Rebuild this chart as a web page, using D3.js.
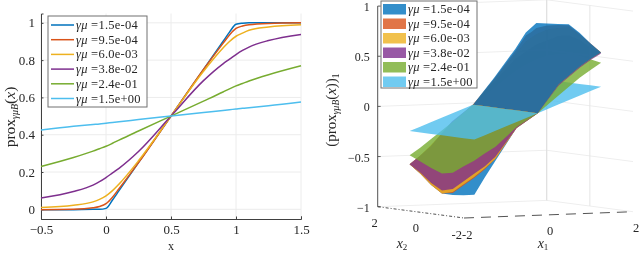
<!DOCTYPE html>
<html>
<head>
<meta charset="utf-8">
<script src="https://cdn.jsdelivr.net/npm/d3@7"></script>
<style>
body { margin: 0; background: #fff; }
svg { display: block; filter: blur(0.45px); }
text { font-family: "Liberation Serif", serif; fill: #262626; }
.axis path, .axis line { stroke: #404040; }
</style>
</head>
<body>
<div id="chart"></div>
<script>
var labels = ["1.5e-04", "9.5e-04", "6.0e-03", "3.8e-02", "2.4e-01", "1.5e+00"];
var colors = ["#0072BD", "#D95319", "#EDB120", "#7E2F8E", "#77AC30", "#4DBEEE"];

// left panel, prox value along x
var xs = [-0.5, -0.25, -0.1, -0.05, 0, 0.05, 0.1, 0.25, 0.5, 0.75, 0.9, 0.95, 1, 1.05, 1.1, 1.25, 1.5];
var line1 = [-0.003, -0.002, 0, 0, 0.005, 0.05, 0.1, 0.25, 0.5, 0.75, 0.9, 0.95, 0.992, 0.998, 1, 1, 1];
var line2 = [-0.002, 0, 0.008, 0.015, 0.03, 0.065, 0.11, 0.25, 0.5, 0.75, 0.89, 0.935, 0.97, 0.983, 0.99, 0.997, 1];
var line3 = [0.01, 0.022, 0.04, 0.053, 0.072, 0.1, 0.135, 0.26, 0.5, 0.74, 0.865, 0.9, 0.928, 0.945, 0.96, 0.978, 0.99];
var line4 = [0.06, 0.095, 0.13, 0.148, 0.17, 0.195, 0.22, 0.31, 0.5, 0.69, 0.78, 0.805, 0.83, 0.852, 0.87, 0.905, 0.938];
var line5 = [0.23, 0.278, 0.312, 0.325, 0.338, 0.354, 0.371, 0.42, 0.5, 0.58, 0.629, 0.646, 0.662, 0.675, 0.688, 0.722, 0.77];
var line6 = [0.425, 0.445, 0.455, 0.458, 0.462, 0.466, 0.47, 0.481, 0.5, 0.519, 0.53, 0.534, 0.538, 0.542, 0.545, 0.555, 0.575];
var lines = [line1, line2, line3, line4, line5, line6];
var xTicks = [-0.5, 0, 0.5, 1, 1.5];
var yTicks = [0, 0.2, 0.4, 0.6, 0.8, 1];

// right panel, rows are x2Grid, columns are x1Grid
var x1Grid = [-1.5, -1.25, -1, -0.5, 0, 0.5, 1, 1.25, 1.5];
var x2Grid = [-1.5, -1, -0.5, 0, 0.5, 1, 1.5];
var surf1 = [
  [-0.79, -0.62, -0.46, -0.14, 0, 0.28, 0.45, 0.52, 0.58],
  [-0.81, -0.72, -0.58, -0.25, 0, 0.35, 0.55, 0.62, 0.66],
  [-0.82, -0.76, -0.64, -0.32, 0, 0.39, 0.68, 0.73, 0.75],
  [-0.82, -0.75, -0.65, -0.36, 0, 0.40, 0.77, 0.82, 0.82],
  [-0.75, -0.69, -0.60, -0.33, 0, 0.41, 0.76, 0.80, 0.81],
  [-0.65, -0.60, -0.51, -0.27, 0, 0.38, 0.72, 0.78, 0.80],
  [-0.57, -0.49, -0.40, -0.18, 0, 0.26, 0.54, 0.70, 0.79]];
var surf2 = [
  [-0.61, -0.54, -0.44, -0.14, 0, 0.28, 0.45, 0.52, 0.58],
  [-0.71, -0.64, -0.53, -0.25, 0, 0.34, 0.54, 0.61, 0.66],
  [-0.80, -0.73, -0.62, -0.31, 0, 0.37, 0.65, 0.71, 0.74],
  [-0.82, -0.75, -0.65, -0.35, 0, 0.38, 0.73, 0.79, 0.81],
  [-0.75, -0.69, -0.60, -0.32, 0, 0.39, 0.73, 0.78, 0.80],
  [-0.65, -0.60, -0.51, -0.26, 0, 0.36, 0.69, 0.75, 0.78],
  [-0.57, -0.49, -0.40, -0.18, 0, 0.25, 0.52, 0.66, 0.74]];
var surf3 = [
  [-0.60, -0.53, -0.44, -0.14, 0, 0.28, 0.45, 0.52, 0.58],
  [-0.70, -0.63, -0.52, -0.25, 0, 0.32, 0.52, 0.60, 0.65],
  [-0.79, -0.72, -0.61, -0.30, 0, 0.35, 0.62, 0.69, 0.73],
  [-0.82, -0.75, -0.65, -0.33, 0, 0.36, 0.68, 0.75, 0.79],
  [-0.75, -0.69, -0.60, -0.30, 0, 0.36, 0.68, 0.74, 0.77],
  [-0.65, -0.60, -0.51, -0.25, 0, 0.33, 0.63, 0.70, 0.74],
  [-0.57, -0.49, -0.39, -0.17, 0, 0.24, 0.49, 0.60, 0.67]];
var surf4 = [
  [-0.57, -0.51, -0.42, -0.14, 0, 0.27, 0.44, 0.51, 0.57],
  [-0.67, -0.60, -0.50, -0.24, 0, 0.28, 0.49, 0.56, 0.62],
  [-0.76, -0.69, -0.58, -0.28, 0, 0.30, 0.54, 0.62, 0.68],
  [-0.79, -0.72, -0.62, -0.30, 0, 0.30, 0.56, 0.65, 0.71],
  [-0.73, -0.66, -0.58, -0.28, 0, 0.29, 0.55, 0.63, 0.69],
  [-0.64, -0.58, -0.49, -0.24, 0, 0.26, 0.50, 0.57, 0.63],
  [-0.57, -0.49, -0.40, -0.16, 0, 0.22, 0.44, 0.51, 0.58]];
var surf5 = [
  [-0.43, -0.38, -0.32, -0.13, 0, 0.17, 0.34, 0.41, 0.48],
  [-0.52, -0.47, -0.40, -0.18, 0, 0.19, 0.38, 0.44, 0.50],
  [-0.60, -0.54, -0.46, -0.22, 0, 0.20, 0.40, 0.47, 0.52],
  [-0.62, -0.56, -0.47, -0.23, 0, 0.21, 0.41, 0.48, 0.53],
  [-0.58, -0.52, -0.44, -0.21, 0, 0.20, 0.40, 0.46, 0.51],
  [-0.53, -0.47, -0.39, -0.19, 0, 0.19, 0.37, 0.43, 0.48],
  [-0.48, -0.41, -0.33, -0.17, 0, 0.16, 0.32, 0.38, 0.43]];
var surf6 = [
  [-0.24, -0.20, -0.16, -0.08, 0, 0.08, 0.16, 0.20, 0.24],
  [-0.24, -0.20, -0.16, -0.08, 0, 0.08, 0.16, 0.20, 0.24],
  [-0.24, -0.20, -0.16, -0.08, 0, 0.08, 0.16, 0.20, 0.24],
  [-0.24, -0.20, -0.16, -0.08, 0, 0.08, 0.16, 0.20, 0.24],
  [-0.24, -0.20, -0.16, -0.08, 0, 0.08, 0.16, 0.20, 0.24],
  [-0.24, -0.20, -0.16, -0.08, 0, 0.08, 0.16, 0.20, 0.24],
  [-0.24, -0.20, -0.16, -0.08, 0, 0.08, 0.16, 0.20, 0.24]];
var surfs = [surf1, surf2, surf3, surf4, surf5, surf6];
var zTicks = [-1, -0.5, 0, 0.5, 1];

var svg = d3.select("#chart").append("svg").attr("width", 640).attr("height", 253);

function legendText(sel, x, y, label) {
  var t = sel.append("text").attr("x", x).attr("y", y).attr("font-size", 12.5).attr("letter-spacing", 0.25);
  t.append("tspan").attr("font-style", "italic").text("γμ ");
  t.append("tspan").text("=" + label);
}

// ---- left panel
var x = d3.scaleLinear().domain([-0.5, 1.5]).range([41, 301]);
var y = d3.scaleLinear().domain([-0.052, 1.05]).range([219, 13.5]);
var left = svg.append("g");

left.selectAll(".gx").data(xTicks).enter().append("line")
  .attr("x1", x).attr("x2", x).attr("y1", y(-0.052)).attr("y2", y(1.05)).attr("stroke", "#ececec");
left.selectAll(".gy").data(yTicks).enter().append("line")
  .attr("y1", y).attr("y2", y).attr("x1", 41).attr("x2", 301).attr("stroke", "#ececec");

var xAxis = d3.axisBottom(x).tickValues(xTicks).tickSize(-2.5).tickPadding(6).tickFormat(d3.format("~g"));
var yAxis = d3.axisLeft(y).tickValues(yTicks).tickSize(-2.5).tickPadding(6).tickFormat(d3.format("~g"));
left.append("g").attr("class", "axis").attr("transform", "translate(0,219)").call(xAxis)
  .selectAll("text").attr("font-size", 13).attr("font-family", "Liberation Serif").attr("fill", "#262626");
left.append("g").attr("class", "axis").attr("transform", "translate(41,0)").call(yAxis)
  .selectAll("text").attr("font-size", 13).attr("font-family", "Liberation Serif").attr("fill", "#262626");

var path = d3.line().x(function(d, i) { return x(xs[i]); }).y(function(d) { return y(d); }).curve(d3.curveMonotoneX);
lines.forEach(function(l, i) {
  left.append("path").attr("d", path(l)).attr("fill", "none").attr("stroke", colors[i]).attr("stroke-width", 1.5);
});

left.append("text").attr("x", 171).attr("y", 250).attr("text-anchor", "middle").attr("font-size", 12).text("x");
var yl = left.append("text").attr("transform", "translate(15,117) rotate(-90)").attr("text-anchor", "middle").attr("font-size", 15.5);
yl.append("tspan").text("prox");
yl.append("tspan").attr("font-size", 10).attr("dy", 3).attr("font-style", "italic").text("γμB");
yl.append("tspan").attr("dy", -3).text("(");
yl.append("tspan").attr("font-style", "italic").text("x");
yl.append("tspan").text(")");

left.append("rect").attr("x", 48).attr("y", 16).attr("width", 99).attr("height", 91)
  .attr("fill", "#fff").attr("stroke", "#707070").attr("stroke-width", 1);
labels.forEach(function(l, i) {
  var ry = 25 + i * 14.7;
  left.append("line").attr("x1", 51).attr("x2", 74).attr("y1", ry).attr("y2", ry)
    .attr("stroke", colors[i]).attr("stroke-width", 1.5);
  legendText(left, 76, ry + 4, l);
});

// ---- right panel: one scale per screen contribution of each data axis
var sx1 = d3.scaleLinear().domain([-2, 2]).range([0, 169]);
var sx2 = d3.scaleLinear().domain([-2, 2]).range([0, -86.3]);
var hx1 = d3.scaleLinear().domain([-2, 2]).range([0, -6.3]);
var hx2 = d3.scaleLinear().domain([-2, 2]).range([0, -11.3]);
var hz = d3.scaleLinear().domain([-1, 1]).range([0, -200.6]);

function project(a, b, c) {
  return [464 + sx1(a) + sx2(b), 218 + hx1(a) + hx2(b) + hz(c)];
}

var right = svg.append("g");
function seg(p, q, color, w, dash) {
  right.append("line").attr("x1", p[0]).attr("y1", p[1]).attr("x2", q[0]).attr("y2", q[1])
    .attr("stroke", color).attr("stroke-width", w).attr("stroke-dasharray", dash || null);
}

// back walls
zTicks.forEach(function(z) {
  seg(project(-2, 2, z), project(2, 2, z), "#eeeeee", 1);
  seg(project(2, 2, z), project(2, -2, z), "#eeeeee", 1);
});
seg(project(2, 2, -1), project(2, 2, 1), "#dedede", 1.2);
seg(project(2, 0, -1), project(2, 0, 1), "#e6e6e6", 1);
seg(project(-2, 2, -1), project(-2, 2, 1), "#404040", 0.9);
seg(project(-2, 2, -1), project(-2, -2, -1), "#404040", 0.9, "3 2 1 2");
seg(project(-2, -2, -1), project(2, -2, -1), "#404040", 0.9, "10 7");
zTicks.forEach(function(z) {
  var p = project(-2, 2, z);
  seg(p, [p[0] + 3, p[1]], "#404040", 0.8);
  right.append("text").attr("x", p[0] - 8).attr("y", p[1] + 5).attr("text-anchor", "end")
    .attr("font-size", 12).text(d3.format("~g")(z));
});

function tick3(p, dx, dy, t) {
  right.append("text").attr("x", p[0] + dx).attr("y", p[1] + dy).attr("text-anchor", "middle")
    .attr("font-size", 12.5).text(t);
}
tick3(project(-2, 2, -1), -3, 20, "2");
tick3(project(-2, 0, -1), -5, 20, "0");
tick3(project(-2, -2, -1), -2, 21, "-2-2");
tick3(project(0, -2, -1), 1.5, 20, "0");
tick3(project(2, -2, -1), 3, 20, "2");

var xl2 = right.append("text").attr("x", 402).attr("y", 248).attr("text-anchor", "middle").attr("font-size", 14);
xl2.append("tspan").attr("font-style", "italic").text("x");
xl2.append("tspan").attr("font-size", 9).attr("dy", 2).text("2");
var xl1 = right.append("text").attr("x", 543).attr("y", 248).attr("text-anchor", "middle").attr("font-size", 14);
xl1.append("tspan").attr("font-style", "italic").text("x");
xl1.append("tspan").attr("font-size", 9).attr("dy", 2).text("1");

var zl = right.append("text").attr("transform", "translate(336,110) rotate(-90)").attr("text-anchor", "middle").attr("font-size", 15);
zl.append("tspan").text("(prox");
zl.append("tspan").attr("font-size", 9.5).attr("dy", 3).attr("font-style", "italic").text("γμB");
zl.append("tspan").attr("dy", -3).text("(");
zl.append("tspan").attr("font-style", "italic").text("x");
zl.append("tspan").text("))");
zl.append("tspan").attr("font-size", 9.5).attr("dy", 3).text("1");

// one path per surface half, quads all wound the same way so the fill has no seams
function surfacePath(surf, from, to) {
  var d = "";
  for (var r = 0; r < x2Grid.length - 1; r++) {
    for (var c = from; c < to; c++) {
      var q = [
        project(x1Grid[c], x2Grid[r], surf[r][c]),
        project(x1Grid[c + 1], x2Grid[r], surf[r][c + 1]),
        project(x1Grid[c + 1], x2Grid[r + 1], surf[r + 1][c + 1]),
        project(x1Grid[c], x2Grid[r + 1], surf[r + 1][c])
      ];
      if (d3.polygonArea(q) < 0) q.reverse();
      d += "M" + q.join("L") + "Z";
    }
  }
  return d;
}

// above zero the low-gamma surfaces are on top, below zero the high-gamma ones
var mid = x1Grid.indexOf(0);
[5, 4, 3, 2, 1, 0].forEach(function(i) {
  right.append("path").attr("d", surfacePath(surfs[i], mid, x1Grid.length - 1))
    .attr("fill", colors[i]).attr("fill-opacity", 0.8);
});
[0, 1, 2, 3, 4, 5].forEach(function(i) {
  right.append("path").attr("d", surfacePath(surfs[i], 0, mid))
    .attr("fill", colors[i]).attr("fill-opacity", 0.8);
});

right.append("rect").attr("x", 381).attr("y", 1).attr("width", 96).attr("height", 87)
  .attr("fill", "#fff").attr("stroke", "#707070").attr("stroke-width", 1);
labels.forEach(function(l, i) {
  var ry = 9 + i * 14.5;
  right.append("rect").attr("x", 383).attr("y", ry - 5).attr("width", 23).attr("height", 10.5)
    .attr("fill", colors[i]).attr("fill-opacity", 0.8);
  legendText(right, 408, ry + 4, l);
});
</script>
</body>
</html>
